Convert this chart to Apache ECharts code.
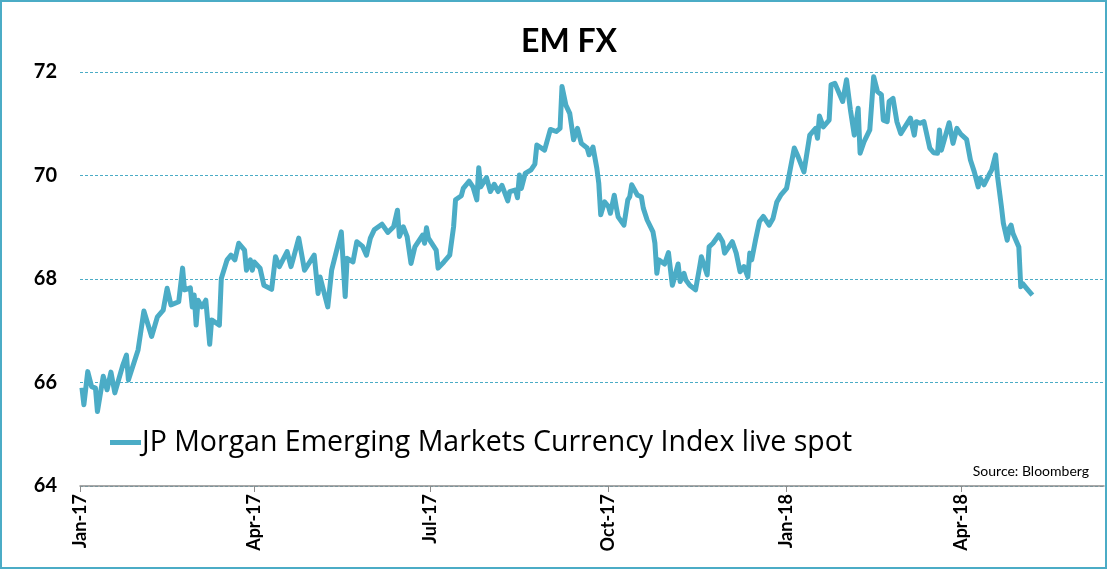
<!DOCTYPE html>
<html>
<head>
<meta charset="utf-8">
<title>EM FX</title>
<script src="https://cdn.jsdelivr.net/npm/echarts@6/dist/echarts.min.js"></script>
<style>
  html, body { margin: 0; padding: 0; background: #fff; }
  #chart { width: 1107px; height: 569px; }
</style>
</head>
<body>
<div id="chart"></div>
<script>
// days counted from 1 Jan 2017
var dayOffsets = [
    1, 2, 4, 6, 8, 9, 12, 14, 16, 18,
    22, 24, 25, 30, 33, 37, 40, 43, 45, 47,
    51, 53, 54, 57, 58, 59, 60, 61, 63, 65,
    67, 68, 72, 73, 76, 78, 80, 82, 85, 86,
    88, 89, 90, 93, 95, 99, 101, 103, 107, 109,
    110, 113, 116, 121, 123, 124, 128, 130, 135, 137,
    138, 141, 143, 146, 148, 150, 152, 156, 159, 162,
    164, 165, 167, 169, 171, 173, 177, 178, 179, 180,
    184, 185, 188, 191, 193, 194, 197, 198, 201, 203,
    205, 206, 207, 210, 212, 214, 216, 218, 221, 222,
    225, 226, 227, 228, 230, 233, 235, 236, 240, 243,
    246, 248, 249, 251, 253, 255, 257, 259, 262, 263,
    265, 267, 268, 269, 271, 273, 274, 276, 277, 278,
    281, 283, 284, 285, 288, 290, 291, 293, 296, 297,
    298, 299, 302, 304, 305, 306, 307, 309, 310, 312,
    313, 315, 318, 320, 321, 324, 325, 327, 330, 332,
    333, 337, 339, 341, 343, 345, 346, 347, 349, 351,
    353, 356, 358, 360, 362, 365, 367, 369, 371, 374,
    377, 380, 381, 382, 384, 387, 388, 390, 394, 395,
    396, 398, 400, 402, 403, 405, 408, 410, 412, 414,
    415, 417, 418, 420, 422, 424, 429, 431, 432, 434,
    436, 439, 441, 443, 444, 445, 449, 451, 453, 455,
    458, 460, 462, 464, 465, 467, 470, 471, 473, 474,
    476, 477, 479, 480, 481, 482, 485, 486, 487, 489,
    492
];
var spotValues = [
    65.90, 65.57, 66.21, 65.92, 65.89, 65.44, 66.12, 65.86, 66.20, 65.80,
    66.32, 66.53, 66.05, 66.63, 67.38, 66.89, 67.27, 67.40, 67.82, 67.50,
    67.56, 68.21, 67.79, 67.83, 67.46, 67.69, 67.11, 67.59, 67.46, 67.59,
    66.74, 67.21, 67.11, 68.01, 68.37, 68.46, 68.37, 68.69, 68.56, 68.17,
    68.37, 68.17, 68.33, 68.21, 67.88, 67.80, 68.43, 68.24, 68.53, 68.24,
    68.37, 68.79, 68.17, 68.46, 67.72, 68.04, 67.46, 68.17, 68.91, 67.66,
    68.40, 68.33, 68.72, 68.63, 68.46, 68.79, 68.95, 69.06, 68.90, 69.01,
    69.33, 68.82, 69.01, 68.82, 68.30, 68.62, 68.85, 68.69, 68.99, 68.79,
    68.56, 68.21, 68.33, 68.46, 69.01, 69.53, 69.61, 69.75, 69.89, 69.78,
    69.53, 70.15, 69.78, 69.96, 69.69, 69.83, 69.69, 69.81, 69.51, 69.69,
    69.72, 69.57, 70.01, 69.75, 70.04, 70.11, 70.22, 70.59, 70.49, 70.89,
    70.85, 70.91, 71.72, 71.36, 71.20, 70.69, 70.91, 70.62, 70.53, 70.40,
    70.55, 70.14, 69.85, 69.24, 69.49, 69.40, 69.27, 69.62, 69.40, 69.20,
    69.04, 69.53, 69.59, 69.82, 69.62, 69.59, 69.37, 69.14, 68.91, 68.69,
    68.11, 68.37, 68.29, 68.51, 68.50, 67.88, 68.01, 68.29, 67.95, 68.11,
    67.98, 67.88, 67.79, 68.21, 68.43, 68.08, 68.62, 68.69, 68.85, 68.72,
    68.50, 68.72, 68.50, 68.14, 68.24, 68.04, 68.50, 68.37, 68.76, 69.11,
    69.21, 69.04, 69.17, 69.49, 69.62, 69.75, 70.14, 70.53, 70.36, 70.07,
    70.78, 70.91, 70.72, 71.15, 70.94, 71.07, 71.75, 71.78, 71.43, 71.40,
    71.85, 71.27, 70.78, 71.30, 70.43, 70.65, 70.88, 71.91, 71.62, 71.56,
    71.07, 71.04, 71.43, 71.49, 71.04, 70.81, 71.11, 70.78, 71.04, 71.01,
    71.04, 70.53, 70.44, 70.43, 70.88, 70.49, 71.02, 70.62, 70.91, 70.80,
    70.70, 70.30, 70.07, 69.78, 69.95, 69.82, 70.04, 70.11, 70.40, 69.98,
    69.40, 69.08, 68.75, 68.98, 69.04, 68.88, 68.62, 67.85, 67.91, 67.82,
    67.69
];
// quarter starts shown on the x axis
var tickDates = ['2017-01-01', '2017-04-01', '2017-07-01', '2017-10-01', '2018-01-01', '2018-04-01'];
var tickLabels = ['Jan-17', 'Apr-17', 'Jul-17', 'Oct-17', 'Jan-18', 'Apr-18'];
var seriesName = 'JP Morgan Emerging Markets Currency Index live spot';

var DAY = 24 * 3600 * 1000;
function dateToDay(s) {
    var p = s.split('-');
    return Math.round((Date.UTC(+p[0], +p[1] - 1, +p[2]) - Date.UTC(2017, 0, 1)) / DAY);
}

var seriesData = [];
for (var i = 0; i < dayOffsets.length; i++) {
    seriesData.push([dayOffsets[i], spotValues[i]]);
}
var tickDays = tickDates.map(dateToDay);

var teal = '#4bacc6';
var font = 'Lato, "Open Sans", sans-serif';

var myChart = echarts.init(document.getElementById('chart'));
var option = {
    animation: false,
    backgroundColor: '#fff',
    title: {
        text: 'EM FX',
        left: 516,
        top: 21,
        textStyle: { fontFamily: font, fontSize: 32, fontWeight: 'bold', color: '#000' }
    },
    legend: {
        data: [seriesName],
        left: 105,
        top: 423,
        icon: 'rect',
        itemWidth: 31,
        itemHeight: 5,
        textStyle: {
            fontFamily: '"Open Sans", sans-serif',
            fontSize: 28.5,
            color: '#000',
            padding: [0, 0, 0, -4]
        }
    },
    grid: {
        left: 80,
        right: 3,
        top: 72,
        bottom: 83,
        outerBoundsMode: 'none'
    },
    xAxis: {
        type: 'value',
        min: 0,
        max: 529,
        axisLine: { lineStyle: { color: '#8c8c8c', width: 1.5 } },
        axisTick: {
            show: true,
            length: 6,
            customValues: tickDays,
            lineStyle: { color: '#8c8c8c' }
        },
        axisLabel: {
            customValues: tickDays,
            rotate: 90,
            margin: 8,
            fontFamily: font,
            fontSize: 18,
            fontWeight: 'bold',
            color: '#000',
            formatter: function(val) {
                var k = tickDays.indexOf(Math.round(val));
                return k >= 0 ? tickLabels[k] : '';
            }
        },
        splitLine: { show: false }
    },
    yAxis: {
        type: 'value',
        min: 64,
        max: 72,
        interval: 2,
        axisLine: { show: false },
        axisTick: { show: false },
        axisLabel: {
            margin: 23,
            fontFamily: font,
            fontSize: 20,
            fontWeight: 'bold',
            color: '#000'
        },
        splitLine: {
            lineStyle: { color: teal, type: [3, 2], width: 1 }
        }
    },
    series: [{
        name: seriesName,
        type: 'line',
        data: seriesData,
        showSymbol: false,
        symbol: 'none',
        color: teal,
        lineStyle: { color: teal, width: 5, join: 'round' }
    }],
    graphic: [
        {
            type: 'rect',
            shape: { x: 1, y: 1, width: 1105, height: 567 },
            style: { fill: 'none', stroke: teal, lineWidth: 2 },
            silent: true
        },
        {
            type: 'text',
            x: 1089,
            y: 471,
            style: {
                text: 'Source: Bloomberg',
                align: 'right',
                verticalAlign: 'middle',
                fontFamily: font,
                fontSize: 14,
                fill: '#000'
            }
        }
    ]
};
myChart.setOption(option);
</script>
</body>
</html>
